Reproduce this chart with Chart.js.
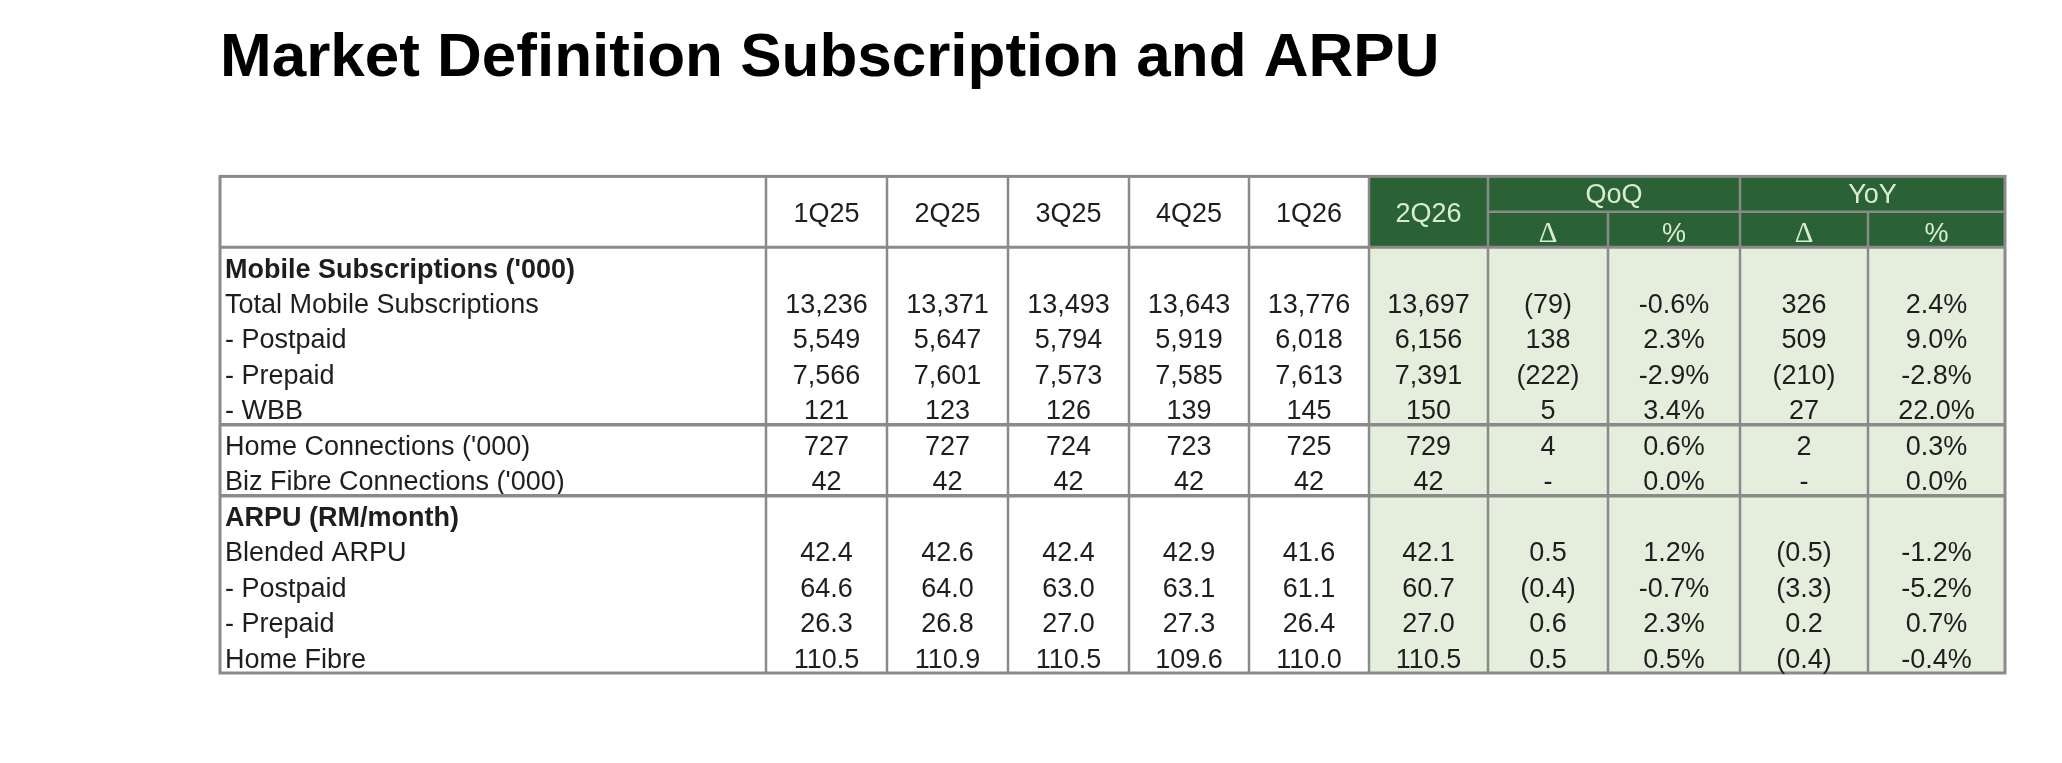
<!DOCTYPE html>
<html>
<head>
<meta charset="utf-8">
<script src="https://cdn.jsdelivr.net/npm/chart.js@4.4.1/dist/chart.umd.min.js"></script>
<style>
  html, body { margin: 0; background: #fff; }
  canvas { display: block; }
</style>
</head>
<body>
<canvas id="table" width="2062" height="763"></canvas>
<script>
// --- data ---
const TITLE = 'Market Definition Subscription and ARPU';
const QUARTERS = ['1Q25', '2Q25', '3Q25', '4Q25', '1Q26'];
const CURRENT = '2Q26';
const GROUPS = ['QoQ', 'YoY'];
const SUB_HEADS = ['Δ', '%'];

const ROW_LABELS = [
  "Mobile Subscriptions ('000)",
  'Total Mobile Subscriptions',
  '- Postpaid',
  '- Prepaid',
  '- WBB',
  "Home Connections ('000)",
  "Biz Fibre Connections ('000)",
  'ARPU (RM/month)',
  'Blended ARPU',
  '- Postpaid',
  '- Prepaid',
  'Home Fibre'
];
const BOLD_ROWS = [0, 7];
const ROW_DECIMALS = [0, 0, 0, 0, 0, 0, 0, 1, 1, 1, 1, 1];

const V_1Q25 = [null, 13236, 5549, 7566, 121, 727, 42, null, 42.4, 64.6, 26.3, 110.5];
const V_2Q25 = [null, 13371, 5647, 7601, 123, 727, 42, null, 42.6, 64.0, 26.8, 110.9];
const V_3Q25 = [null, 13493, 5794, 7573, 126, 724, 42, null, 42.4, 63.0, 27.0, 110.5];
const V_4Q25 = [null, 13643, 5919, 7585, 139, 723, 42, null, 42.9, 63.1, 27.3, 109.6];
const V_1Q26 = [null, 13776, 6018, 7613, 145, 725, 42, null, 41.6, 61.1, 26.4, 110.0];
const V_2Q26 = [null, 13697, 6156, 7391, 150, 729, 42, null, 42.1, 60.7, 27.0, 110.5];
const QOQ_DELTA = [null, -79, 138, -222, 5, 4, 0, null, 0.5, -0.4, 0.6, 0.5];
const QOQ_PCT = [null, -0.6, 2.3, -2.9, 3.4, 0.6, 0.0, null, 1.2, -0.7, 2.3, 0.5];
const YOY_DELTA = [null, 326, 509, -210, 27, 2, 0, null, -0.5, -3.3, 0.2, -0.4];
const YOY_PCT = [null, 2.4, 9.0, -2.8, 22.0, 0.3, 0.0, null, -1.2, -5.2, 0.7, -0.4];

// --- layout / style ---
const FONT = '"Liberation Sans", Arial, sans-serif';
const SERIF = '"Liberation Serif", "Times New Roman", serif';
const COL_WIDTHS = [546, 121, 121, 121, 120, 120, 119, 120, 132, 128, 137]; // label col + 10 value cols
const SEPARATOR_AFTER = [4, 6]; // heavier rule below these body rows
const GRID = '#8a8a8a';
const DARK_GREEN = '#2b6235';
const LIGHT_GREEN = '#e5eedd';
const HEAD_TEXT = '#d9ecd2';
const INK = '#1e1e1e';
const TEXT_DROP = 5; // text sits a little below the band centre

const EDGES = COL_WIDTHS.reduce((a, w) => { a.push(a[a.length - 1] + w); return a; }, [0]);
const colCenter = k => (EDGES[k] + EDGES[k + 1]) / 2;
const Y_KEYS = ['head-1', 'head-2'].concat(ROW_LABELS.map((l, i) => 'r' + i));

const COLUMNS = [
  { vals: V_1Q25, kind: 'num' },
  { vals: V_2Q25, kind: 'num' },
  { vals: V_3Q25, kind: 'num' },
  { vals: V_4Q25, kind: 'num' },
  { vals: V_1Q26, kind: 'num' },
  { vals: V_2Q26, kind: 'num' },
  { vals: QOQ_DELTA, kind: 'delta' },
  { vals: QOQ_PCT, kind: 'pct' },
  { vals: YOY_DELTA, kind: 'delta' },
  { vals: YOY_PCT, kind: 'pct' }
];

function fmtNum(v, d) {
  return v.toLocaleString('en-US', { minimumFractionDigits: d, maximumFractionDigits: d });
}
function fmtCell(v, kind, row) {
  const d = ROW_DECIMALS[row];
  if (kind === 'pct') return v.toFixed(1) + '%';
  if (kind === 'delta') {
    if (v === 0) return '-';
    return v < 0 ? '(' + fmtNum(-v, d) + ')' : fmtNum(v, d);
  }
  return fmtNum(v, d);
}

const datasets = COLUMNS.map((c, ci) => ({
  label: ci < 6 ? (QUARTERS[ci] || CURRENT) : GROUPS[(ci - 6) >> 1] + ' ' + SUB_HEADS[ci % 2],
  kind: c.kind,
  pointRadius: 0,
  data: c.vals
    .map((v, row) => (v === null ? null : { x: colCenter(ci + 1), y: Y_KEYS[row + 2], v, row }))
    .filter(p => p)
}));

// draws the table frame, header and row labels off the chart's own scales
const tableGrid = {
  id: 'tableGrid',
  beforeDatasetsDraw(chart) {
    const { ctx, scales: { x, y } } = chart;
    const ex = k => x.getPixelForValue(EDGES[k]);
    const band = y.getPixelForValue(1) - y.getPixelForValue(0);
    const top = i => y.getPixelForValue(i) - band / 2;
    const nRows = Y_KEYS.length;

    ctx.save();
    // fills
    ctx.fillStyle = LIGHT_GREEN;
    ctx.fillRect(ex(6), top(2), ex(11) - ex(6), top(nRows) - top(2));
    ctx.fillStyle = DARK_GREEN;
    ctx.fillRect(ex(6), top(0), ex(11) - ex(6), top(2) - top(0));

    // header text
    ctx.textAlign = 'center';
    ctx.textBaseline = 'middle';
    ctx.font = '27px ' + FONT;
    const midHead = top(1) + 3;
    QUARTERS.forEach((q, i) => {
      ctx.fillStyle = INK;
      ctx.fillText(q, x.getPixelForValue(colCenter(i + 1)), midHead);
    });
    ctx.fillStyle = HEAD_TEXT;
    ctx.fillText(CURRENT, x.getPixelForValue(colCenter(6)), midHead);
    GROUPS.forEach((g, gi) => {
      const a = 7 + gi * 2;
      ctx.font = '27px ' + FONT;
      ctx.fillText(g, (ex(a) + ex(a + 2)) / 2, y.getPixelForValue(0) + 1);
      SUB_HEADS.forEach((s, si) => {
        ctx.font = (si === 0 ? '29px ' + SERIF : '27px ' + FONT);
        ctx.fillText(s, x.getPixelForValue(colCenter(a + si)), y.getPixelForValue(1) + 5);
      });
    });

    // row labels
    ctx.textAlign = 'left';
    ctx.fillStyle = INK;
    ROW_LABELS.forEach((l, i) => {
      ctx.font = (BOLD_ROWS.includes(i) ? 'bold ' : '') + '27px ' + FONT;
      ctx.fillText(l, ex(0) + 5, y.getPixelForValue(i + 2) + TEXT_DROP);
    });

    // rules
    ctx.strokeStyle = GRID;
    const line = (x1, y1, x2, y2, w) => {
      ctx.lineWidth = w;
      ctx.beginPath();
      ctx.moveTo(x1, y1);
      ctx.lineTo(x2, y2);
      ctx.stroke();
    };
    const bottom = top(nRows);
    for (let k = 1; k < COL_WIDTHS.length; k++) {
      const sub = k === 8 || k === 10; // Δ | % split sits under the group header
      line(ex(k), sub ? top(1) : top(0), ex(k), bottom, 2.5);
    }
    line(ex(7), top(1), ex(11), top(1), 2.5);
    line(ex(0), top(2), ex(11), top(2), 3);
    SEPARATOR_AFTER.forEach(r => line(ex(0), top(r + 3), ex(11), top(r + 3), 3.5));
    ctx.lineWidth = 3;
    ctx.strokeRect(ex(0), top(0), ex(11) - ex(0), bottom - top(0));
    ctx.restore();
  },
  afterDatasetsDraw(chart) {
    const { ctx } = chart;
    ctx.save();
    ctx.font = '27px ' + FONT;
    ctx.fillStyle = INK;
    ctx.textAlign = 'center';
    ctx.textBaseline = 'middle';
    chart.data.datasets.forEach((ds, di) => {
      chart.getDatasetMeta(di).data.forEach((pt, i) => {
        const p = ds.data[i];
        ctx.fillText(fmtCell(p.v, ds.kind, p.row), pt.x, pt.y + TEXT_DROP);
      });
    });
    ctx.restore();
  }
};

new Chart(document.getElementById('table'), {
  type: 'scatter',
  data: { datasets },
  plugins: [tableGrid],
  options: {
    responsive: false,
    animation: false,
    devicePixelRatio: 1,
    events: [],
    layout: { padding: { left: 220, right: 57, top: 0, bottom: 90 } },
    scales: {
      x: { type: 'linear', min: 0, max: EDGES[EDGES.length - 1], display: false },
      y: { type: 'category', labels: Y_KEYS, offset: true, display: false }
    },
    plugins: {
      legend: { display: false },
      tooltip: { enabled: false },
      title: {
        display: true,
        text: TITLE,
        align: 'start',
        color: '#000',
        font: { family: FONT, size: 62, weight: 'bold', lineHeight: 1.2 },
        padding: { top: 22, bottom: 80 }
      }
    }
  }
});
</script>
</body>
</html>
